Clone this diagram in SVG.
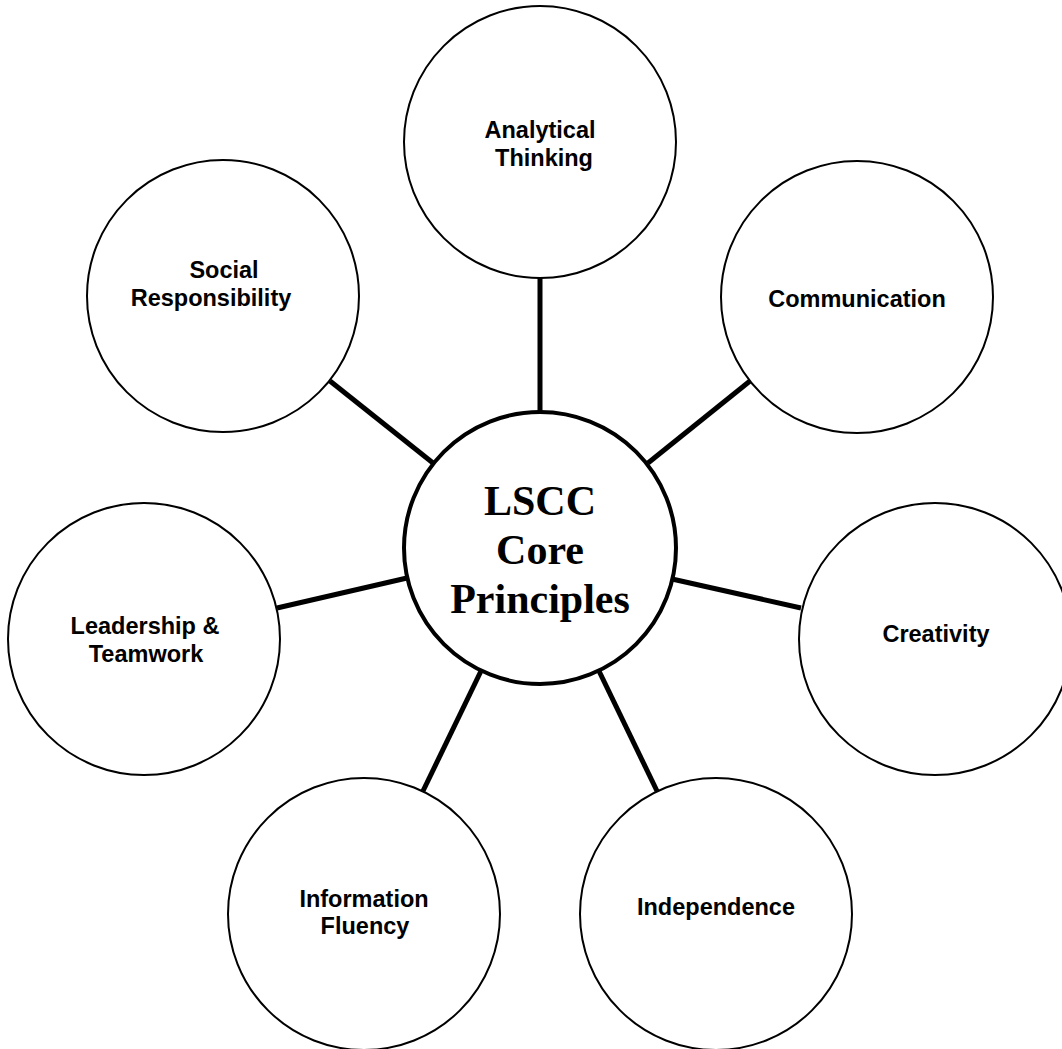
<svg xmlns="http://www.w3.org/2000/svg" width="1062" height="1049" viewBox="0 0 1062 1049">
<style>
.node{fill:#fff;stroke:#000;stroke-width:2}
.hub{fill:#fff;stroke:#000;stroke-width:4}
.lbl{font-family:"Liberation Sans",Arial,sans-serif;font-weight:bold;font-size:23.5px;fill:#000;text-anchor:middle}
.hubt{font-family:"Liberation Serif","Times New Roman",serif;font-weight:bold;font-size:42px;fill:#000;text-anchor:middle}
.conn line{stroke:#000;stroke-width:5}
</style>
<rect width="1062" height="1049" fill="#fff"/>
<g id="connectors" class="conn">
<line x1="540" y1="278" x2="540" y2="412"/>
<line x1="648" y1="463" x2="750" y2="381"/>
<line x1="672" y1="579" x2="801" y2="608"/>
<line x1="599" y1="671" x2="657" y2="791"/>
<line x1="481" y1="671" x2="423" y2="791"/>
<line x1="407" y1="578" x2="277" y2="608"/>
<line x1="433" y1="463" x2="330" y2="381"/>
</g>
<g id="analytical">
<circle class="node" cx="540" cy="142" r="136"/>
<text class="lbl" x="540" y="138">Analytical</text>
<text class="lbl" x="544" y="166">Thinking</text>
</g>
<g id="communication">
<circle class="node" cx="857" cy="297" r="136"/>
<text class="lbl" x="857" y="307">Communication</text>
</g>
<g id="creativity">
<circle class="node" cx="935" cy="639" r="136"/>
<text class="lbl" x="936" y="642">Creativity</text>
</g>
<g id="independence">
<circle class="node" cx="716" cy="914" r="136"/>
<text class="lbl" x="716" y="915">Independence</text>
</g>
<g id="information">
<circle class="node" cx="364" cy="914" r="136"/>
<text class="lbl" x="364" y="907">Information</text>
<text class="lbl" x="365" y="934">Fluency</text>
</g>
<g id="leadership">
<circle class="node" cx="144" cy="639" r="136"/>
<text class="lbl" x="145" y="634">Leadership &amp;</text>
<text class="lbl" x="146" y="662">Teamwork</text>
</g>
<g id="social">
<circle class="node" cx="223" cy="296" r="136"/>
<text class="lbl" x="224" y="278">Social</text>
<text class="lbl" x="211" y="306">Responsibility</text>
</g>
<g id="hub">
<circle class="hub" cx="540" cy="548" r="136"/>
<text class="hubt" x="540" y="515">LSCC</text>
<text class="hubt" x="540" y="564">Core</text>
<text class="hubt" x="540" y="613">Principles</text>
</g>
</svg>
